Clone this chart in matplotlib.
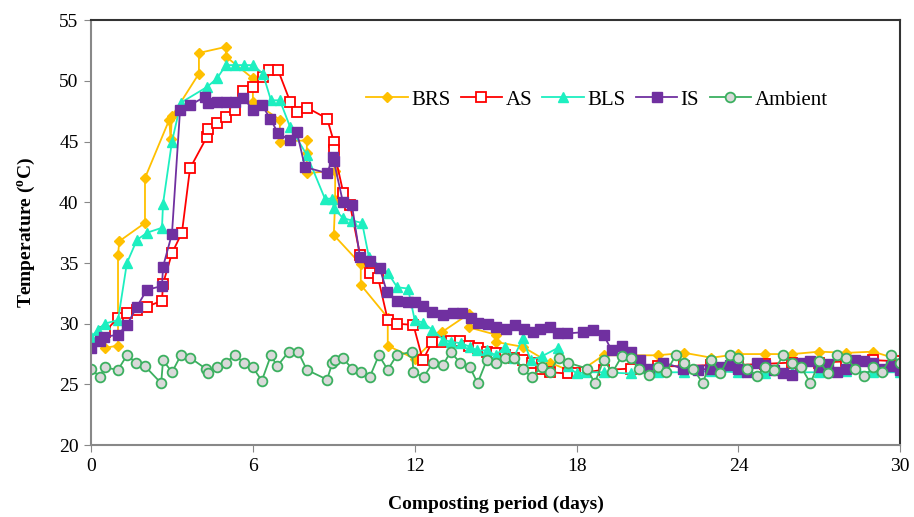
import matplotlib
matplotlib.use("Agg")
import matplotlib.pyplot as plt

plt.rcParams['font.family'] = ['Liberation Serif', 'DejaVu Serif']
plt.rcParams['mathtext.fontset'] = 'custom'
plt.rcParams['mathtext.rm'] = 'Liberation Serif'
plt.rcParams['mathtext.bf'] = 'Liberation Serif:bold'

# DATA
brs_day = [0.0, 0.5, 1.0, 1.0, 1.05, 2.0, 2.0, 2.9, 2.95, 3.0, 4.0, 4.0, 5.0, 5.0,
           6.0, 6.0, 7.0, 7.0, 8.0, 8.0, 8.0, 9.05, 9.05, 9.0, 10.0, 10.0, 11.0, 11.0,
           12.0, 13.0, 14.0, 14.0, 15.0, 15.0, 16.0, 17.0, 18.0, 19.0, 21.0, 22.0,
           23.0, 24.0, 25.0, 26.0, 27.0, 28.0, 29.0, 30.0]
brs_temp = [28.5, 28.0, 28.2, 35.7, 36.8, 38.3, 42.0, 46.8, 45.2, 47.1, 50.6, 52.3, 52.8, 52.0,
            50.2, 48.3, 46.8, 45.0, 45.1, 44.1, 42.4, 42.6, 40.2, 37.3, 34.9, 33.2, 30.5, 28.2,
            27.1, 29.3, 30.8, 29.7, 29.1, 28.5, 28.1, 26.8, 25.9, 27.4, 27.4, 27.6,
            27.2, 27.5, 27.5, 27.5, 27.7, 27.6, 27.7, 27.0]

as_day = [0.0, 0.5, 1.0, 1.33, 1.7, 2.07, 2.63, 2.67, 3.0, 3.37, 3.67, 4.3, 4.33, 4.67,
          5.0, 5.33, 5.65, 6.0, 6.37, 6.6, 6.93, 7.38, 7.65, 8.0, 8.75, 9.0, 9.0, 9.35,
          9.6, 9.97, 10.34, 10.64, 11.0, 11.35, 11.95, 12.3, 12.65, 13.0, 13.33, 13.67,
          14.0, 14.33, 14.67, 15.0, 15.33, 15.67, 16.0, 16.33, 16.67, 17.0, 17.67, 18.0,
          18.33, 19.0, 20.0, 21.0, 22.0, 23.0, 24.0, 25.0, 26.0, 27.0, 28.0, 29.0, 30.0]
as_temp = [28.3, 29.3, 30.5, 30.9, 31.1, 31.4, 31.9, 33.3, 35.8, 37.5, 42.8, 45.4, 46.0, 46.5,
           47.0, 47.6, 49.2, 49.5, 50.3, 50.9, 50.9, 48.3, 47.4, 47.8, 46.9, 45.0, 44.3, 40.8,
           39.8, 35.7, 34.2, 33.8, 30.3, 30.0, 29.9, 27.0, 28.5, 28.5, 28.6, 28.6,
           28.2, 28.0, 27.7, 27.6, 27.4, 27.2, 27.0, 26.8, 26.3, 26.0, 25.9, 25.9,
           26.0, 26.2, 26.3, 26.5, 26.5, 26.6, 26.6, 26.7, 26.8, 26.8, 26.9, 27.0, 26.9]

bls_day = [0.0, 0.25, 0.5, 1.0, 1.33, 1.7, 2.08, 2.63, 2.67, 3.0, 3.33, 4.3, 4.67, 5.0,
           5.33, 5.67, 6.0, 6.37, 6.67, 7.0, 7.38, 8.0, 8.67, 8.95, 9.0, 9.34, 9.67, 10.05,
           10.3, 11.0, 11.35, 11.75, 12.0, 12.3, 12.65, 13.05, 13.35, 13.7, 14.05, 14.3,
           14.67, 15.0, 15.35, 15.67, 16.0, 16.3, 16.7, 17.3, 17.67, 18.0, 18.33, 19.0,
           20.0, 21.0, 22.0, 23.0, 24.0, 25.0, 26.0, 27.0, 28.0, 29.0, 30.0]
bls_temp = [28.9, 29.5, 30.0, 30.3, 35.0, 36.9, 37.5, 37.9, 39.9, 45.0, 48.2, 49.5, 50.2, 51.3,
            51.3, 51.3, 51.3, 50.6, 48.4, 48.4, 46.2, 43.9, 40.3, 40.3, 39.5, 38.7, 38.5, 38.3,
            35.5, 34.2, 33.0, 32.9, 30.3, 30.1, 29.5, 28.7, 28.5, 28.4, 28.1, 27.8,
            27.8, 27.4, 28.1, 27.2, 28.8, 27.0, 27.3, 28.0, 26.5, 25.9, 26.0, 26.0,
            25.9, 26.0, 26.0, 26.1, 26.0, 25.9, 26.0, 26.0, 26.1, 26.0, 26.0]

is_day = [0.0, 0.33, 0.48, 1.0, 1.33, 1.7, 2.07, 2.63, 2.67, 3.0, 3.3, 3.67, 4.23, 4.33,
          4.67, 5.0, 5.33, 5.65, 6.0, 6.34, 6.64, 6.93, 7.38, 7.63, 7.93, 8.75, 8.97, 9.0,
          9.34, 9.67, 9.97, 10.34, 10.7, 10.97, 11.35, 11.75, 12.0, 12.3, 12.65, 13.05,
          13.4, 13.75, 14.1, 14.35, 14.7, 15.0, 15.4, 15.7, 16.05, 16.4, 16.65, 17.0,
          17.3, 17.65, 18.24, 18.6, 19.0, 19.3, 19.7, 20.0, 20.35, 20.7, 21.2, 21.95,
          22.5, 22.95, 23.33, 23.67, 24.0, 24.33, 24.67, 25.0, 25.33, 25.67, 26.0, 26.33,
          26.67, 27.0, 27.33, 27.67, 28.0, 28.33, 28.67, 29.0, 29.33, 29.67, 30.0]
is_temp = [28.0, 28.6, 28.9, 29.1, 29.9, 31.4, 32.8, 33.1, 34.7, 37.4, 47.6, 48.0, 48.7, 48.2,
           48.3, 48.3, 48.3, 48.6, 47.6, 48.0, 46.9, 45.7, 45.1, 45.8, 42.9, 42.4, 43.7, 43.4,
           40.0, 39.8, 35.5, 35.2, 34.6, 32.6, 31.9, 31.8, 31.8, 31.5, 31.0, 30.7,
           30.9, 30.9, 30.5, 30.1, 30.0, 29.7, 29.6, 29.9, 29.6, 29.3, 29.6, 29.7,
           29.2, 29.2, 29.3, 29.5, 29.1, 27.8, 28.2, 27.7, 27.0, 26.3, 26.8, 26.3,
           26.2, 26.3, 26.4, 26.6, 26.3, 26.0, 26.8, 26.6, 26.2, 25.9, 25.8, 26.8,
           26.9, 26.4, 26.7, 26.0, 26.3, 27.0, 26.9, 26.8, 26.3, 26.5, 26.2]

amb_day = [0.0, 0.33, 0.5, 1.0, 1.33, 1.67, 2.0, 2.6, 2.67, 3.0, 3.33, 3.67, 4.25, 4.33,
           4.67, 5.0, 5.33, 5.67, 6.0, 6.33, 6.67, 6.9, 7.33, 7.67, 8.0, 8.75, 8.95, 9.05,
           9.33, 9.67, 10.0, 10.33, 10.67, 11.0, 11.33, 11.9, 11.95, 12.33, 12.67, 13.05,
           13.33, 13.67, 14.05, 14.33, 14.67, 15.0, 15.33, 15.67, 16.0, 16.33, 16.7, 17.0,
           17.33, 17.67, 18.4, 18.67, 19.0, 19.33, 19.67, 20.0, 20.33, 20.67, 21.0, 21.33,
           21.67, 22.0, 22.33, 22.67, 23.0, 23.33, 23.67, 24.0, 24.33, 24.67, 25.0, 25.33,
           25.67, 26.0, 26.33, 26.67, 27.0, 27.33, 27.67, 28.0, 28.33, 28.67, 29.0, 29.33,
           29.67, 30.0]
amb_temp = [26.3, 25.6, 26.4, 26.2, 27.4, 26.8, 26.5, 25.1, 27.0, 26.0, 27.4, 27.2, 26.3, 25.9,
            26.4, 26.8, 27.4, 26.8, 26.4, 25.3, 27.4, 26.5, 27.7, 27.7, 26.2, 25.4, 26.8, 27.0,
            27.2, 26.3, 26.0, 25.6, 27.4, 26.2, 27.4, 27.7, 26.0, 25.6, 26.8, 26.6,
            27.7, 26.8, 26.4, 25.1, 27.0, 26.8, 27.2, 27.2, 26.3, 25.6, 26.4, 26.0,
            27.2, 26.8, 26.3, 25.1, 27.0, 26.0, 27.3, 27.2, 26.3, 25.8, 26.4, 26.0,
            27.4, 26.8, 26.3, 25.1, 27.0, 25.9, 27.4, 27.2, 26.3, 25.7, 26.4, 26.2,
            27.4, 26.8, 26.4, 25.1, 26.9, 25.9, 27.4, 27.2, 26.3, 25.7, 26.4, 26.0,
            27.4, 26.8]

fig = plt.figure(figsize=(9.14, 5.17), dpi=100)
ax = fig.add_axes([0.0996, 0.139, 0.8854, 0.822])

ax.plot(brs_day, brs_temp, color='#FFC000', marker='D', markersize=5.5, lw=1.3, label='BRS')
ax.plot(as_day, as_temp, color='#FF0000', marker='s', markersize=7, mfc='white', mew=1.3,
        lw=1.3, label='AS')
ax.plot(bls_day, bls_temp, color='#1DEFC0', marker='^', markersize=7.5, lw=1.3, label='BLS')
ax.plot(is_day, is_temp, color='#7030A0', marker='s', markersize=7.5, lw=1.3, label='IS')
ax.plot(amb_day, amb_temp, color='#3CB060', marker='o', markersize=7, mfc='#D9D9D9', mew=1.3,
        lw=1.3, label='Ambient')

ax.set_xlim(0, 30)
ax.set_ylim(20, 55)
ax.set_xticks(range(0, 31, 6))
ax.set_yticks(range(20, 56, 5))
ax.tick_params(direction='out', length=5, color='#888888', labelsize=14, pad=4)

for side in ['left', 'bottom']:
    ax.spines[side].set_color('#888888')
    ax.spines[side].set_linewidth(1.5)
for side in ['top', 'right']:
    ax.spines[side].set_color('#333333')
    ax.spines[side].set_linewidth(1.5)

ax.set_ylabel(r'Temperature ($\mathbf{^{o}}$C)', fontsize=14, fontweight='bold', labelpad=16)
ax.set_xlabel('Composting period (days)', fontsize=14, fontweight='bold', labelpad=15)

ax.legend(loc='upper center', bbox_to_anchor=(0.625, 0.855), ncol=5, frameon=False,
          fontsize=15, handlelength=2.0, handletextpad=0.15, columnspacing=0.5,
          borderaxespad=0)

fig.savefig('out.png', dpi=100)
